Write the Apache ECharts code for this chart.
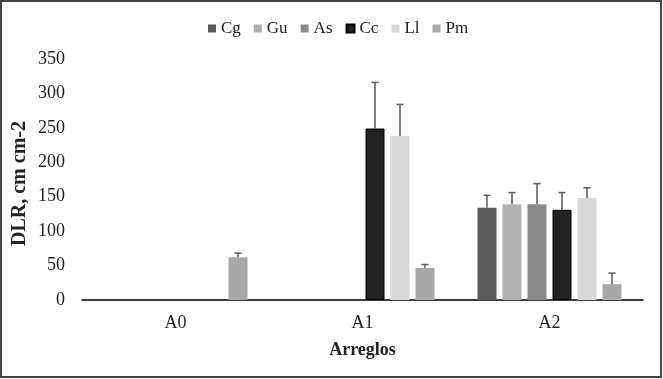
<!DOCTYPE html>
<html>
<head>
<meta charset="utf-8">
<script src="https://cdn.jsdelivr.net/npm/echarts@6/dist/echarts.min.js"></script>
<style>html,body{margin:0;padding:0;background:#fff}#c{width:663px;height:379px}</style>
</head>
<body>
<div id="c"></div>
<script>
var categories = ['A0', 'A1', 'A2'];
var seriesNames = ['Cg', 'Gu', 'As', 'Cc', 'Ll', 'Pm'];
var valCg = [null, null, 134];
var valGu = [null, null, 139];
var valAs = [null, null, 139];
var valCc = [null, 249, 131];
var valLl = [null, 238, 148];
var valPm = [62, 46.5, 23];
var errCg = [null, null, 18];
var errGu = [null, null, 17];
var errAs = [null, null, 30];
var errCc = [null, 67, 25];
var errLl = [null, 46, 15];
var errPm = [6, 5, 16];
var yTicks = [0, 50, 100, 150, 200, 250, 300, 350];

var values = [valCg, valGu, valAs, valCc, valLl, valPm];
var errors = [errCg, errGu, errAs, errCc, errLl, errPm];
var colors = ['#5a5a5a', '#b0b0b0', '#8a8a8a', '#222222', '#d9d9d9', '#a8a8a8'];
var BAR_W = 19, BAR_GAP = 6;
var font = 'Liberation Serif';

var series = [];
seriesNames.forEach(function (n, i) {
  series.push({
    name: n, type: 'bar', data: values[i], barWidth: BAR_W,
    barGap: (BAR_GAP / BAR_W * 100).toFixed(2) + '%',
    itemStyle: { color: colors[i], borderColor: i === 3 ? '#000' : colors[i], borderWidth: i === 3 ? 1 : 0 }
  });
});
seriesNames.forEach(function (n, i) {
  var d = [];
  categories.forEach(function (c, j) {
    if (values[i][j] != null) d.push([j, values[i][j], values[i][j] + errors[i][j]]);
  });
  series.push({
    type: 'custom', data: d, z: 10, silent: true,
    renderItem: function (params, api) {
      var off = (i - 2.5) * (BAR_W + BAR_GAP);
      var p0 = api.coord([api.value(0), api.value(1)]);
      var p1 = api.coord([api.value(0), api.value(2)]);
      var x = p0[0] + off;
      var st = { stroke: '#595959', lineWidth: 1.5 };
      return { type: 'group', children: [
        { type: 'line', shape: { x1: x, y1: p0[1], x2: x, y2: p1[1] }, style: st },
        { type: 'line', shape: { x1: x - 3.5, y1: p1[1], x2: x + 3.5, y2: p1[1] }, style: st }
      ]};
    }
  });
});

var chart = echarts.init(document.getElementById('c'));
chart.setOption({
  animation: false,
  textStyle: { fontFamily: font },
  graphic: [{ type: 'rect', shape: { x: 1, y: 1, width: 660, height: 376 }, style: { fill: 'none', stroke: '#444', lineWidth: 2 } }],
  legend: {
    data: seriesNames, top: 15, left: 203, itemWidth: 8, itemHeight: 8, itemGap: 13,
    icon: 'rect', textStyle: { fontFamily: font, fontSize: 17, color: '#222' }
  },
  grid: { left: 82, right: 20, top: 59, bottom: 79 },
  xAxis: {
    type: 'category', data: categories,
    name: 'Arreglos', nameLocation: 'middle', nameGap: 41,
    nameTextStyle: { fontFamily: font, fontSize: 18, fontWeight: 'bold', color: '#222' },
    axisLine: { lineStyle: { color: '#000', width: 1.5 } },
    axisTick: { show: false },
    axisLabel: { fontFamily: font, fontSize: 18, color: '#222', margin: 14 }
  },
  yAxis: {
    type: 'value', min: yTicks[0], max: yTicks[yTicks.length - 1], interval: 50,
    name: 'DLR, cm cm-2', nameLocation: 'middle', nameGap: 52, nameMoveOverlap: false,
    nameTextStyle: { fontFamily: font, fontSize: 20, fontWeight: 'bold', color: '#222', padding: [0, 8, 0, 0] },
    axisLine: { show: false }, axisTick: { show: false }, splitLine: { show: false },
    axisLabel: { fontFamily: font, fontSize: 18, color: '#222', margin: 17 }
  },
  series: series
});
</script>
</body>
</html>
